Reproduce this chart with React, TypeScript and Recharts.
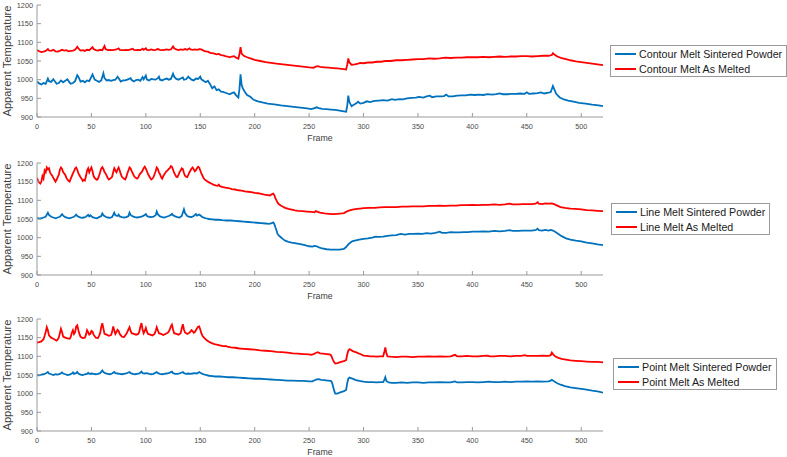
import React from 'react';
import { LineChart, Line, XAxis, YAxis } from 'recharts';

type Pt = [number, number];

const xTicks = [0, 50, 100, 150, 200, 250, 300, 350, 400, 450, 500];
const yTicks = [900, 950, 1000, 1050, 1100, 1150, 1200];
const xDomain: [number, number] = [0, 520];
const yDomain: [number, number] = [900, 1200];

const contourNames = ['Contour Melt Sintered Powder', 'Contour Melt As Melted'];
const lineNames = ['Line Melt Sintered Powder', 'Line Melt As Melted'];
const pointNames = ['Point Melt Sintered Powder', 'Point Melt As Melted'];

const contourPowder: Pt[] = [[0,995],[2,990],[4,987],[6,991],[8,989],[10,1003],[11,996],[13,994],[15,1001],[16,997],[18,989],[20,991],[22,998],[24,993],[25,995],[27,999],[28,1001],[30,992],[31,989],[33,991],[35,996],[37,1012],[38,1008],[40,995],[42,997],[44,993],[46,998],[48,996],[51,1014],[53,1000],[55,997],[57,994],[59,998],[61,1017],[62,1004],[64,998],[66,999],[68,997],[70,999],[72,1000],[74,1008],[75,1004],[77,995],[79,998],[81,998],[83,1000],[86,1004],[87,999],[89,995],[91,999],[93,1000],[95,997],[97,1007],[98,1001],[100,1011],[101,1000],[103,998],[105,1002],[107,1001],[109,1000],[111,1004],[112,1008],[113,1000],[115,998],[117,1001],[119,1003],[121,1000],[123,1002],[125,1016],[126,1008],[128,1002],[130,1000],[132,1003],[134,1006],[135,1000],[137,1001],[139,1008],[140,1005],[142,1000],[144,998],[146,1003],[148,1002],[150,1008],[151,1001],[153,997],[155,993],[157,997],[159,988],[161,977],[163,982],[165,972],[167,974],[169,968],[171,967],[173,965],[175,963],[177,961],[179,964],[181,966],[183,958],[185,952],[186,975],[187,1014],[188,986],[189,977],[191,967],[193,959],[196,954],[199,946],[203,942],[207,939],[212,936],[218,934],[224,931],[230,929],[236,927],[242,925],[248,923],[252,921],[255,924],[257,926],[259,924],[262,922],[266,921],[270,920],[274,919],[278,917],[282,915],[284,914],[285,930],[286,957],[287,940],[289,929],[291,933],[293,936],[295,941],[297,936],[300,938],[303,942],[306,940],[310,943],[314,944],[318,945],[322,944],[326,948],[329,946],[333,948],[336,947],[340,950],[344,951],[348,952],[351,954],[355,952],[358,955],[361,957],[363,953],[367,955],[371,955],[374,956],[376,960],[378,955],[382,955],[386,957],[390,958],[394,958],[398,960],[402,959],[406,960],[410,959],[414,961],[418,960],[422,961],[425,963],[428,961],[432,961],[436,962],[440,962],[444,963],[448,962],[450,966],[452,962],[456,963],[460,964],[463,966],[466,963],[470,965],[472,967],[474,983],[475,976],[477,962],[480,953],[484,947],[488,944],[493,941],[498,938],[504,936],[510,933],[516,931],[520,929]];

const contourMelted: Pt[] = [[0,1079],[2,1076],[4,1074],[6,1075],[8,1077],[10,1082],[11,1078],[13,1077],[15,1080],[17,1076],[19,1075],[21,1077],[23,1080],[25,1078],[27,1079],[29,1076],[31,1077],[33,1078],[35,1080],[37,1088],[38,1084],[40,1078],[42,1079],[44,1077],[46,1080],[48,1079],[51,1087],[52,1082],[54,1079],[56,1078],[58,1080],[60,1079],[62,1090],[63,1082],[65,1079],[67,1080],[69,1079],[71,1080],[73,1081],[75,1084],[76,1080],[78,1079],[80,1079],[82,1080],[84,1079],[86,1081],[88,1083],[89,1080],[91,1079],[93,1080],[95,1079],[97,1083],[98,1080],[100,1084],[101,1080],[103,1079],[105,1081],[107,1079],[109,1080],[111,1082],[113,1080],[115,1079],[117,1080],[119,1081],[121,1080],[123,1081],[125,1089],[126,1084],[128,1081],[130,1079],[132,1081],[134,1080],[136,1082],[138,1080],[140,1084],[141,1081],[143,1080],[145,1081],[147,1080],[149,1082],[151,1081],[153,1078],[155,1076],[157,1075],[159,1072],[161,1071],[163,1070],[165,1068],[167,1069],[169,1066],[171,1065],[173,1063],[175,1062],[177,1060],[179,1062],[181,1063],[183,1059],[185,1056],[186,1068],[187,1087],[188,1070],[190,1064],[193,1060],[196,1057],[200,1053],[205,1050],[210,1047],[215,1045],[220,1043],[226,1041],[232,1039],[238,1037],[244,1035],[250,1033],[254,1032],[256,1035],[258,1036],[260,1034],[264,1033],[268,1032],[272,1031],[276,1030],[280,1029],[284,1027],[285,1040],[286,1057],[287,1046],[289,1040],[292,1041],[295,1043],[297,1045],[300,1044],[304,1046],[308,1046],[312,1048],[316,1048],[320,1050],[325,1050],[330,1052],[335,1052],[340,1053],[345,1054],[350,1055],[355,1055],[360,1057],[365,1056],[370,1057],[375,1059],[380,1058],[385,1059],[390,1059],[395,1060],[400,1060],[405,1060],[410,1061],[415,1060],[420,1061],[425,1062],[430,1061],[435,1062],[440,1062],[445,1063],[450,1063],[455,1062],[460,1063],[465,1064],[470,1064],[473,1066],[474,1071],[475,1068],[478,1062],[482,1058],[486,1055],[490,1052],[495,1049],[500,1047],[505,1045],[510,1043],[515,1041],[520,1039]];

const linePowder: Pt[] = [[0,1053],[2,1051],[4,1052],[6,1054],[8,1056],[10,1067],[11,1061],[13,1056],[15,1054],[17,1052],[19,1054],[21,1056],[23,1063],[24,1059],[26,1055],[28,1053],[30,1052],[32,1054],[34,1056],[36,1062],[37,1058],[39,1055],[41,1053],[43,1054],[45,1056],[47,1061],[48,1057],[49,1060],[51,1055],[53,1053],[55,1052],[57,1055],[59,1058],[60,1065],[61,1060],[63,1056],[65,1054],[67,1053],[69,1055],[71,1067],[72,1060],[74,1058],[75,1062],[76,1057],[78,1055],[80,1054],[82,1055],[84,1058],[85,1067],[86,1061],[88,1057],[90,1055],[92,1054],[94,1055],[96,1056],[98,1059],[100,1063],[101,1058],[103,1056],[105,1055],[107,1056],[109,1060],[110,1070],[111,1063],[113,1057],[115,1055],[117,1054],[119,1056],[121,1058],[123,1061],[124,1064],[125,1060],[127,1057],[129,1055],[131,1054],[133,1058],[135,1076],[136,1066],[138,1058],[140,1056],[142,1055],[144,1058],[146,1063],[147,1059],[149,1062],[150,1060],[152,1055],[155,1052],[158,1050],[161,1049],[164,1048],[167,1048],[170,1047],[174,1046],[178,1046],[182,1045],[186,1044],[190,1043],[194,1042],[198,1041],[202,1040],[206,1039],[210,1038],[213,1037],[215,1038],[217,1041],[218,1037],[219,1028],[220,1020],[221,1010],[222,1006],[224,1001],[226,996],[228,992],[231,989],[234,987],[238,985],[242,983],[246,980],[250,977],[253,976],[255,978],[257,977],[259,974],[262,971],[266,969],[270,968],[274,968],[278,968],[282,970],[284,975],[286,982],[288,987],[290,991],[293,993],[296,995],[300,997],[304,998],[308,1000],[311,1003],[314,1002],[318,1003],[322,1005],[326,1006],[330,1007],[334,1010],[338,1008],[342,1010],[346,1010],[350,1011],[354,1010],[358,1012],[362,1011],[366,1013],[370,1016],[372,1013],[376,1013],[380,1015],[384,1014],[388,1014],[392,1015],[396,1015],[400,1016],[405,1016],[410,1017],[415,1016],[420,1018],[425,1017],[430,1018],[434,1020],[437,1018],[442,1018],[446,1019],[450,1019],[454,1019],[458,1020],[460,1024],[461,1020],[464,1019],[467,1021],[470,1019],[472,1021],[474,1019],[476,1016],[479,1010],[482,1004],[486,998],[490,995],[495,992],[500,990],[505,987],[510,985],[515,982],[520,980]];

const lineMelted: Pt[] = [[0,1160],[1,1152],[2,1148],[3,1145],[4,1150],[5,1165],[6,1158],[7,1180],[8,1175],[9,1188],[10,1183],[11,1186],[12,1175],[13,1170],[14,1166],[15,1160],[16,1155],[17,1150],[18,1155],[19,1162],[20,1168],[21,1182],[22,1188],[23,1184],[24,1176],[26,1168],[27,1160],[28,1156],[29,1152],[30,1150],[31,1158],[32,1165],[33,1172],[34,1178],[35,1185],[36,1188],[37,1182],[38,1173],[39,1167],[40,1162],[41,1158],[42,1152],[43,1155],[44,1153],[45,1165],[46,1180],[47,1186],[48,1175],[49,1182],[50,1188],[51,1178],[52,1165],[53,1160],[54,1157],[55,1155],[56,1158],[57,1166],[58,1175],[59,1185],[60,1189],[61,1184],[62,1176],[63,1172],[64,1166],[65,1160],[66,1156],[67,1158],[68,1160],[69,1163],[70,1175],[71,1186],[72,1180],[73,1175],[74,1182],[75,1188],[76,1180],[77,1170],[78,1163],[79,1160],[80,1158],[81,1156],[82,1162],[83,1172],[84,1180],[85,1188],[86,1185],[87,1178],[88,1172],[89,1166],[90,1162],[91,1160],[92,1158],[93,1161],[94,1168],[95,1172],[96,1175],[97,1180],[98,1186],[99,1190],[100,1185],[101,1178],[102,1170],[103,1165],[104,1160],[105,1156],[106,1158],[107,1162],[108,1170],[109,1178],[110,1188],[111,1184],[112,1175],[113,1170],[114,1162],[115,1158],[116,1165],[117,1170],[118,1174],[119,1178],[120,1180],[121,1184],[122,1186],[123,1192],[124,1190],[125,1182],[126,1174],[127,1168],[128,1163],[129,1162],[130,1168],[131,1176],[132,1180],[133,1186],[134,1184],[135,1173],[136,1166],[137,1163],[138,1162],[139,1168],[140,1175],[141,1180],[142,1185],[143,1188],[144,1183],[145,1178],[146,1181],[147,1186],[148,1190],[149,1188],[150,1180],[151,1172],[152,1166],[153,1160],[154,1156],[156,1152],[158,1148],[160,1145],[162,1142],[164,1140],[166,1139],[167,1142],[168,1138],[170,1136],[173,1134],[176,1133],[179,1130],[182,1129],[185,1127],[188,1126],[191,1124],[194,1123],[197,1122],[200,1120],[203,1119],[206,1117],[209,1115],[212,1114],[214,1113],[215,1115],[216,1117],[217,1118],[218,1114],[219,1106],[220,1100],[221,1094],[222,1090],[224,1086],[226,1083],[228,1080],[231,1077],[234,1075],[237,1073],[240,1072],[244,1071],[248,1070],[252,1069],[255,1068],[256,1071],[258,1069],[260,1067],[264,1065],[268,1064],[272,1063],[276,1064],[280,1065],[282,1066],[284,1069],[286,1072],[288,1074],[291,1076],[294,1077],[297,1078],[300,1079],[305,1080],[310,1080],[315,1081],[320,1082],[325,1082],[330,1082],[335,1083],[340,1083],[345,1084],[350,1084],[355,1084],[360,1085],[365,1085],[370,1086],[375,1085],[380,1086],[385,1086],[390,1087],[395,1087],[400,1088],[405,1087],[410,1088],[415,1088],[420,1089],[425,1088],[430,1089],[434,1091],[437,1089],[442,1089],[446,1090],[450,1090],[455,1090],[458,1091],[460,1095],[461,1091],[464,1090],[467,1092],[470,1091],[473,1092],[475,1090],[478,1086],[481,1082],[485,1080],[490,1078],[495,1077],[500,1076],[505,1074],[510,1073],[515,1072],[520,1071]];

const pointPowder: Pt[] = [[0,1050],[2,1049],[4,1051],[6,1052],[8,1054],[10,1058],[11,1054],[13,1052],[15,1050],[17,1052],[19,1051],[21,1053],[23,1057],[24,1054],[26,1052],[28,1050],[30,1051],[32,1054],[33,1057],[34,1053],[36,1055],[37,1058],[38,1054],[40,1051],[42,1050],[44,1052],[46,1053],[47,1056],[48,1053],[50,1054],[52,1053],[54,1052],[56,1053],[58,1055],[60,1062],[61,1058],[63,1054],[65,1053],[67,1052],[69,1054],[71,1058],[72,1055],[74,1054],[76,1053],[78,1052],[80,1053],[82,1054],[85,1058],[86,1055],[88,1053],[90,1052],[92,1053],[94,1054],[96,1059],[97,1055],[99,1054],[101,1055],[103,1053],[105,1052],[107,1053],[110,1058],[111,1055],[113,1053],[115,1052],[117,1053],[119,1054],[121,1055],[124,1059],[125,1055],[127,1053],[129,1053],[131,1054],[134,1058],[135,1055],[137,1053],[139,1054],[141,1053],[143,1054],[145,1055],[147,1054],[149,1058],[150,1056],[152,1053],[155,1050],[158,1048],[161,1047],[164,1046],[168,1046],[172,1045],[176,1044],[180,1044],[185,1043],[190,1042],[195,1041],[200,1040],[205,1040],[210,1039],[215,1038],[220,1037],[225,1036],[230,1035],[235,1035],[240,1034],[245,1034],[250,1033],[253,1033],[255,1036],[257,1038],[259,1039],[261,1037],[264,1036],[267,1035],[270,1034],[271,1030],[272,1020],[273,1008],[274,1000],[276,1000],[278,1003],[280,1005],[282,1007],[284,1010],[285,1028],[286,1040],[287,1043],[289,1041],[291,1039],[293,1036],[296,1034],[300,1032],[304,1031],[308,1031],[312,1030],[316,1031],[318,1031],[319,1036],[320,1044],[321,1034],[323,1030],[326,1029],[330,1029],[335,1030],[340,1029],[345,1030],[350,1030],[355,1029],[360,1030],[365,1030],[370,1031],[375,1030],[380,1030],[384,1033],[386,1030],[390,1030],[395,1031],[400,1031],[405,1030],[410,1031],[415,1032],[420,1031],[425,1031],[430,1032],[435,1031],[440,1032],[445,1032],[450,1033],[455,1032],[460,1033],[465,1032],[470,1033],[472,1035],[473,1037],[475,1033],[478,1028],[481,1024],[485,1020],[490,1017],[495,1015],[500,1013],[505,1011],[510,1008],[515,1006],[520,1003]];

const pointMelted: Pt[] = [[0,1137],[2,1138],[4,1140],[6,1146],[7,1155],[8,1165],[9,1178],[10,1170],[11,1156],[13,1150],[15,1147],[17,1144],[18,1142],[19,1145],[20,1150],[21,1162],[22,1174],[23,1165],[24,1153],[26,1150],[28,1148],[30,1147],[31,1152],[32,1163],[33,1170],[34,1160],[35,1165],[36,1180],[37,1183],[38,1170],[39,1160],[40,1152],[42,1149],[44,1150],[45,1158],[46,1170],[47,1165],[48,1158],[49,1160],[50,1168],[51,1166],[52,1158],[54,1150],[56,1149],[57,1155],[58,1162],[59,1178],[60,1189],[61,1175],[62,1160],[64,1158],[66,1155],[68,1157],[69,1165],[70,1180],[71,1170],[72,1160],[73,1165],[74,1171],[75,1168],[76,1160],[78,1153],[80,1152],[81,1156],[82,1160],[83,1165],[84,1172],[85,1178],[86,1168],[87,1162],[89,1160],[91,1158],[93,1160],[94,1166],[95,1180],[96,1189],[97,1172],[98,1162],[99,1168],[100,1176],[101,1166],[102,1160],[104,1158],[106,1156],[108,1160],[109,1168],[110,1178],[111,1170],[112,1162],[114,1160],[116,1157],[118,1160],[120,1163],[121,1166],[122,1172],[123,1180],[124,1185],[125,1172],[126,1162],[128,1160],[130,1158],[132,1162],[133,1175],[134,1186],[135,1172],[136,1164],[138,1160],[140,1163],[142,1170],[143,1167],[144,1163],[145,1165],[146,1170],[147,1175],[148,1179],[149,1180],[150,1172],[151,1162],[152,1155],[154,1148],[156,1143],[158,1139],[160,1136],[163,1133],[166,1131],[169,1129],[172,1127],[173,1128],[175,1126],[178,1124],[182,1123],[186,1121],[190,1120],[195,1119],[200,1118],[205,1116],[210,1115],[215,1114],[220,1112],[225,1111],[230,1110],[235,1108],[240,1107],[245,1106],[250,1105],[252,1104],[254,1106],[256,1109],[258,1111],[260,1108],[263,1107],[266,1106],[269,1105],[270,1103],[271,1097],[272,1090],[273,1084],[274,1081],[276,1082],[278,1084],[280,1086],[282,1087],[284,1090],[285,1105],[286,1115],[287,1119],[288,1118],[290,1114],[292,1112],[294,1110],[296,1107],[298,1105],[300,1102],[303,1101],[306,1100],[309,1100],[312,1099],[315,1100],[318,1100],[319,1110],[320,1124],[321,1108],[322,1100],[325,1099],[330,1098],[335,1099],[340,1099],[345,1098],[350,1099],[355,1099],[360,1100],[365,1099],[370,1100],[375,1099],[380,1100],[384,1104],[386,1100],[390,1100],[395,1101],[400,1100],[405,1100],[410,1101],[414,1102],[416,1100],[420,1100],[425,1101],[430,1101],[435,1100],[440,1101],[445,1101],[448,1103],[450,1101],[455,1101],[460,1101],[465,1102],[470,1101],[472,1103],[473,1110],[474,1106],[476,1100],[479,1096],[482,1093],[486,1091],[490,1089],[495,1088],[500,1087],[505,1086],[510,1085],[515,1085],[520,1084]];

const BLUE = '#0072BD';
const RED = '#FF0000';
const AXIS = '#9a9a9a';
const TICKTXT = '#4a4a4a';
const FONT = '"Liberation Sans", Arial, Helvetica, sans-serif';

const toRows = (pts: Pt[]) => pts.map(([f, v]) => ({ f, v }));

interface PanelProps {
  top: number;
  powder: Pt[];
  melted: Pt[];
  names: string[];
  legend: { left: number; top: number };
}

function Panel({ top, powder, melted, names, legend }: PanelProps) {
  return (
    <>
      <div style={{ position: 'absolute', left: 0, top }}>
        <LineChart width={787} height={152} margin={{ top: 5, right: 184, bottom: 0, left: 0 }}>
          <XAxis
            xAxisId="b"
            type="number"
            dataKey="f"
            domain={xDomain}
            ticks={xTicks}
            allowDataOverflow
            height={35}
            tickSize={-4}
            tickMargin={11}
            stroke={AXIS}
            tick={{ fill: TICKTXT, fontSize: 7.3, fontFamily: FONT }}
            label={{ value: 'Frame', position: 'insideBottom', offset: 11, fill: '#404040', fontSize: 8.8, fontFamily: FONT }}
          />
          <XAxis
            xAxisId="t"
            orientation="top"
            type="number"
            dataKey="f"
            domain={xDomain}
            ticks={xTicks}
            allowDataOverflow
            height={0}
            tickSize={-4}
            tick={false}
            stroke={AXIS}
          />
          <YAxis
            yAxisId="l"
            type="number"
            domain={yDomain}
            ticks={yTicks}
            allowDataOverflow
            width={37}
            tickSize={-4}
            tickMargin={8}
            stroke={AXIS}
            tick={{ fill: TICKTXT, fontSize: 7.3, fontFamily: FONT }}
            label={{ value: 'Apparent Temperature', angle: -90, position: 'insideLeft', offset: 7.5, fill: '#404040', fontSize: 11.2, fontFamily: FONT, style: { textAnchor: 'middle' } }}
          />
          <YAxis
            yAxisId="r"
            orientation="right"
            type="number"
            domain={yDomain}
            ticks={yTicks}
            allowDataOverflow
            width={0}
            tickSize={-4}
            tick={false}
            stroke={AXIS}
          />
          <Line
            xAxisId="b"
            yAxisId="l"
            data={toRows(powder)}
            dataKey="v"
            name={names[0]}
            stroke={BLUE}
            strokeWidth={1.8}
            dot={false}
            isAnimationActive={false}
          />
          <Line
            xAxisId="b"
            yAxisId="l"
            data={toRows(melted)}
            dataKey="v"
            name={names[1]}
            stroke={RED}
            strokeWidth={1.8}
            dot={false}
            isAnimationActive={false}
          />
        </LineChart>
      </div>
      <div
        style={{
          position: 'absolute',
          left: legend.left,
          top: legend.top,
          border: '1px solid #9a9a9a',
          background: '#fff',
          padding: '0 4px 0 4px',
          fontFamily: FONT,
          fontSize: 10.7,
          color: '#1a1a1a',
        }}
      >
        {names.map((n, i) => (
          <div key={n} style={{ display: 'flex', alignItems: 'center', height: 15, whiteSpace: 'nowrap' }}>
            <span style={{ display: 'inline-block', width: 21, height: 2, background: i === 0 ? BLUE : RED, marginRight: 3 }} />
            <span>{n}</span>
          </div>
        ))}
      </div>
    </>
  );
}

export default function App() {
  return (
    <div style={{ position: 'fixed', left: 0, top: 0, width: 787, height: 457, background: '#fff', overflow: 'hidden' }}>
      <Panel top={0} powder={contourPowder} melted={contourMelted} names={contourNames} legend={{ left: 610, top: 45 }} />
      <Panel top={158} powder={linePowder} melted={lineMelted} names={lineNames} legend={{ left: 611, top: 203 }} />
      <Panel top={314} powder={pointPowder} melted={pointMelted} names={pointNames} legend={{ left: 613, top: 358 }} />
    </div>
  );
}
